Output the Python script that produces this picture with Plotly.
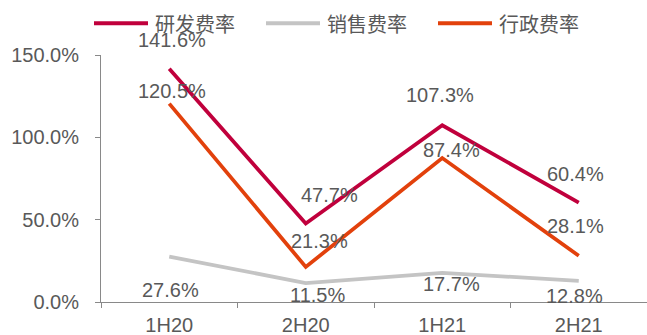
import plotly.graph_objects as go

# Half-year expense ratios (%)
periods = ["1H20", "2H20", "1H21", "2H21"]
rd_ratio = [141.6, 47.7, 107.3, 60.4]      # 研发费率
sales_ratio = [27.6, 11.5, 17.7, 12.8]     # 销售费率
admin_ratio = [120.5, 21.3, 87.4, 28.1]    # 行政费率

series_names = ["研发费率", "销售费率", "行政费率"]
series_values = [rd_ratio, sales_ratio, admin_ratio]
series_colors = ["#C0003C", "#C4C4C4", "#E2410C"]

# value-label nudges in pixels (dx, dy) so labels clear the lines
label_nudges = [
    [(3, 29), (24, 28), (-2, 30), (-3, 28.5)],
    [(1, -33), (12, -12), (9, -11.6), (-4, -15)],
    [(3, 13), (14, 25.5), (9, 8), (-3, 29.7)],
]

W, H = 647, 335
ML, MR, MT, MB = 101, 0, 55, 33
plot_w = W - ML - MR
plot_h = H - MT - MB

NUM_FONT = "Liberation Sans, Arial, sans-serif"
CJK_FONT = "Noto Sans CJK SC, sans-serif"
TEXT = "#595959"
AXIS = "#898989"

fig = go.Figure()
for name, vals, color in zip(series_names, series_values, series_colors):
    fig.add_trace(go.Scatter(
        x=periods, y=vals, name=name, mode="lines",
        line=dict(color=color, width=3.75),
        hoverinfo="skip", showlegend=False,
    ))

annotations = []
for vals, nudges in zip(series_values, label_nudges):
    for p, v, (dx, dy) in zip(periods, vals, nudges):
        annotations.append(dict(
            x=p, y=v, xref="x", yref="y", text=f"{v:.1f}%",
            showarrow=False, xanchor="center", yanchor="middle",
            xshift=dx, yshift=dy,
            font=dict(family=NUM_FONT, size=20, color=TEXT),
        ))


def px_x(px):
    return (px - ML) / plot_w


def px_y(py):
    return (H - MB - py) / plot_h


# legend row drawn across the top
legend_starts = [94, 266, 438]
shapes = []
for x0, name, color in zip(legend_starts, series_names, series_colors):
    shapes.append(dict(
        type="line", xref="paper", yref="paper",
        x0=px_x(x0), x1=px_x(x0 + 54), y0=px_y(23.3), y1=px_y(23.3),
        line=dict(color=color, width=4),
    ))
    annotations.append(dict(
        x=px_x(x0 + 59), y=px_y(23), xref="paper", yref="paper",
        text=name, showarrow=False, xanchor="left", yanchor="middle",
        font=dict(family=CJK_FONT, size=20, color=TEXT),
    ))

fig.update_layout(
    width=W, height=H,
    margin=dict(l=ML, r=MR, t=MT, b=MB),
    paper_bgcolor="white", plot_bgcolor="white",
    showlegend=False,
    annotations=annotations,
    shapes=shapes,
    xaxis=dict(
        type="category", categoryorder="array", categoryarray=periods,
        range=[-0.5, 3.5], showgrid=False, zeroline=False,
        showline=True, linecolor=AXIS, linewidth=1,
        ticks="outside", tickson="boundaries", ticklen=5, tickcolor=AXIS,
        tickfont=dict(family=NUM_FONT, size=20, color=TEXT),
        ticklabelstandoff=5, automargin=False,
    ),
    yaxis=dict(
        range=[0, 150], tickvals=[0, 50, 100, 150],
        ticktext=["0.0%", "50.0%", "100.0%", "150.0%"],
        showgrid=False, zeroline=False,
        showline=True, linecolor=AXIS, linewidth=1,
        ticks="outside", ticklen=5, tickcolor=AXIS,
        tickfont=dict(family=NUM_FONT, size=20, color=TEXT),
        ticklabelstandoff=12, automargin=False,
    ),
)

fig.write_html("out.html")
